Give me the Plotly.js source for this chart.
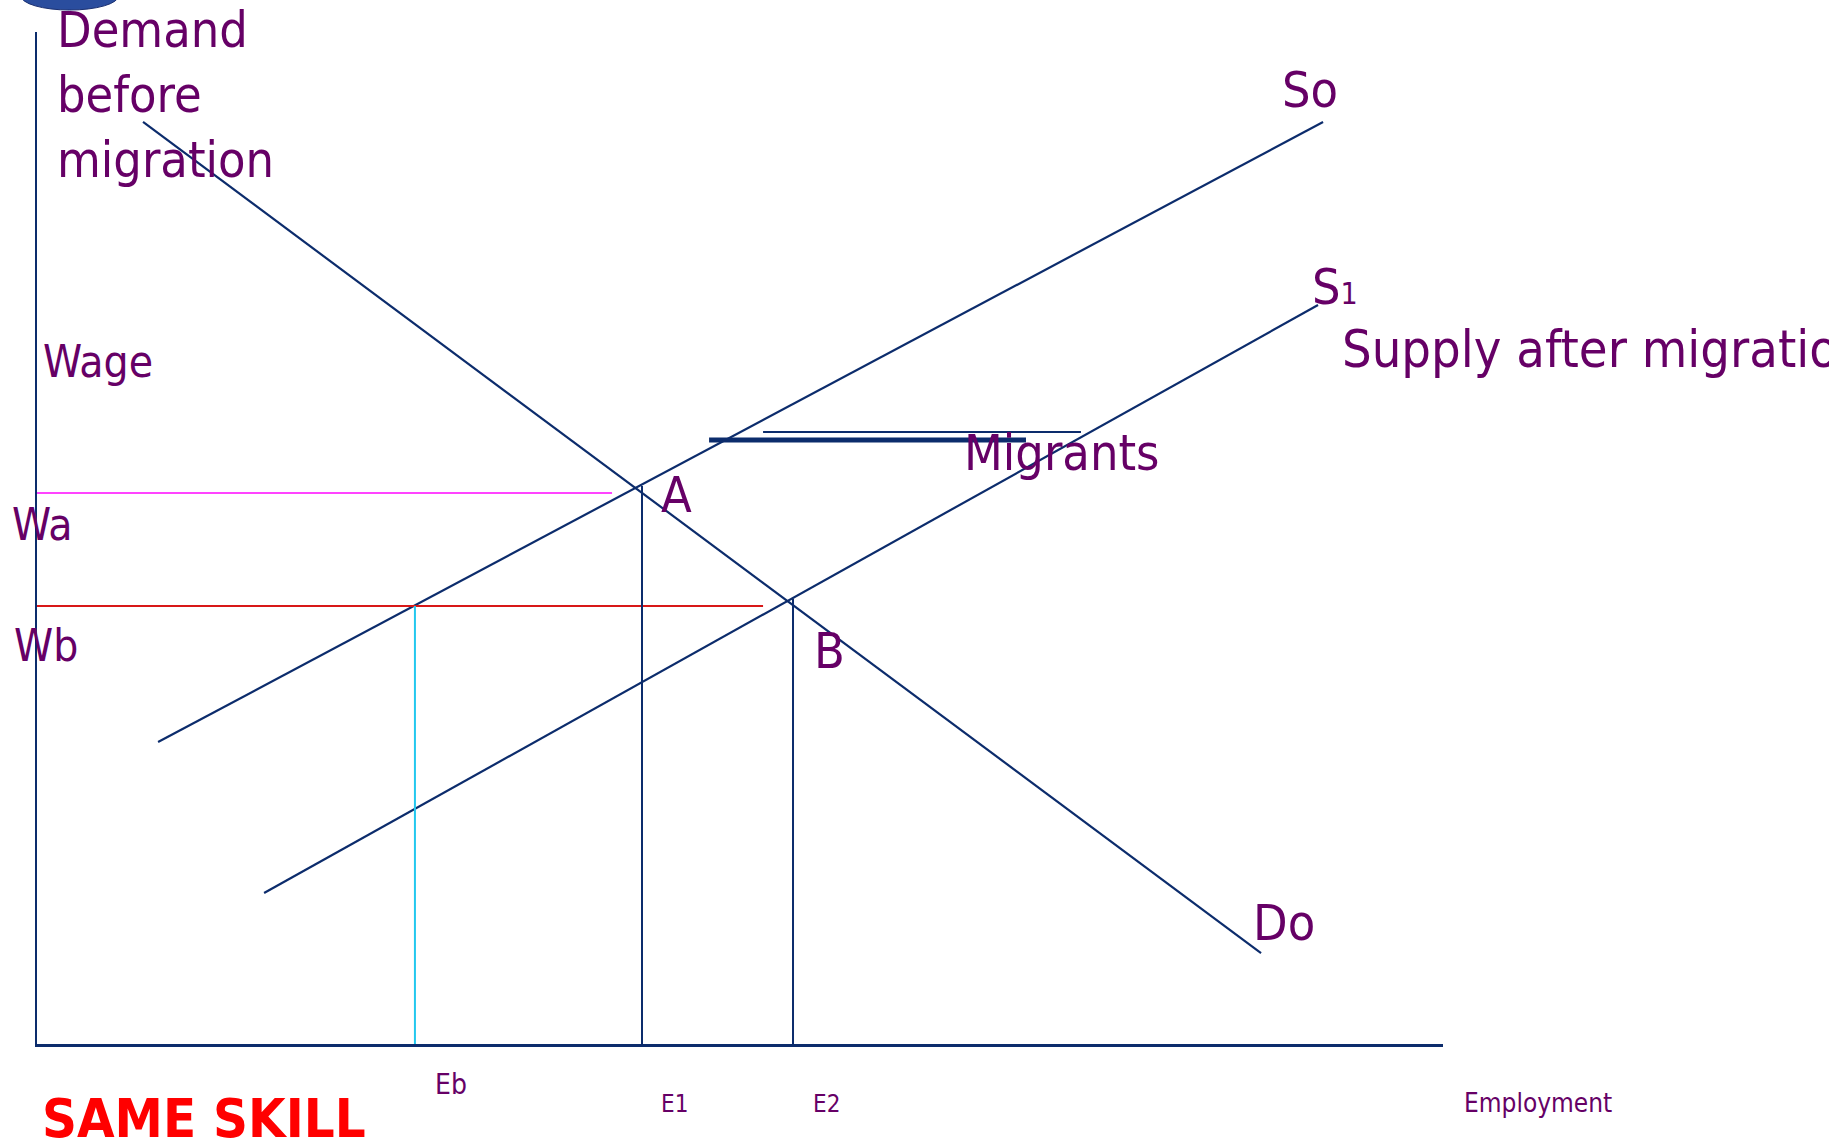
<!DOCTYPE html>
<html>
<head>
<meta charset="utf-8">
<script src="https://cdn.plot.ly/plotly-3.0.1.min.js"></script>
<style>
  html, body { margin: 0; padding: 0; background: #ffffff; overflow: hidden; }
  #chart { width: 1829px; height: 1141px; }
</style>
</head>
<body>
<div id="chart"></div>
<script>
// ---- Data (in employment / wage units, 0-100 scale) ----
const demandX  = [7.54, 87.06];   // Do: demand before migration
const demandY  = [91.11, 8.99];
const supply0X = [8.61, 91.47];   // So: supply before migration
const supply0Y = [29.84, 91.11];
const supply1X = [16.15, 91.11];  // S1: supply after migration
const supply1Y = [14.92, 73.02];

const wageLevels   = [54.45, 43.28];   // Wa, Wb
const wageLineEnds = [40.9, 51.64];    // where the horizontal wage guides stop
const employLevels = [26.88, 43.03, 53.77]; // Eb, E1, E2
const employTops   = [43.28, 55.14, 43.97];
const employBottom = [-0.8, 0, 0];

const migrantsThickX = [47.80, 70.34];
const migrantsThickY = [59.68, 59.68];
const migrantsThinX  = [51.64, 74.25];
const migrantsThinY  = [60.47, 60.47];

const XRANGE = [0, 100];
const YRANGE = [0, 100];

const navy = '#0c2c6c';
const purple = '#660066';
const FONT = '"DejaVu Sans Condensed", "DejaVu Sans", Verdana, sans-serif';

function seg(x, y, color, width, clip) {
  return {
    type: 'scatter', mode: 'lines', x: x, y: y,
    line: { color: color, width: width },
    hoverinfo: 'skip', showlegend: false,
    cliponaxis: clip === undefined ? true : clip
  };
}

const traces = [
  seg(demandX, demandY, navy, 2.2),
  seg(supply0X, supply0Y, navy, 2.2),
  seg(supply1X, supply1Y, navy, 2.2),
  seg([0, wageLineEnds[0]], [wageLevels[0], wageLevels[0]], '#ff44ff', 2),
  seg([0, wageLineEnds[1]], [wageLevels[1], wageLevels[1]], '#d81818', 2),
  seg([employLevels[0], employLevels[0]], [employBottom[0], employTops[0]], '#22c8ee', 2, false),
  seg([employLevels[1], employLevels[1]], [employBottom[1], employTops[1]], navy, 2),
  seg([employLevels[2], employLevels[2]], [employBottom[2], employTops[2]], navy, 2),
  seg(migrantsThinX, migrantsThinY, navy, 2),
  seg(migrantsThickX, migrantsThickY, navy, 5)
];

// labels placed in axis units, converted to paper fractions so that
// the ones outside the plotting area are still drawn
function lab(text, x, y, size, opts) {
  const a = {
    text: text,
    x: (x - XRANGE[0]) / (XRANGE[1] - XRANGE[0]),
    y: (y - YRANGE[0]) / (YRANGE[1] - YRANGE[0]),
    xref: 'paper', yref: 'paper',
    xanchor: 'left', yanchor: 'middle', align: 'left',
    showarrow: false, borderpad: 0,
    font: { family: FONT, size: size, color: purple }
  };
  return Object.assign(a, opts || {});
}

const annotations = [
  lab('Demand<br>before<br>migration', 1.35, 93.76, 50),
  lab('So', 88.48, 94.26, 50),
  lab('S<span style="font-size:30px">1</span>', 90.61, 74.84, 50),
  lab('Supply after migration', 92.75, 68.71, 52),
  lab('Wage', 0.36, 67.41, 44),
  lab('Wa', -1.85, 51.30, 44),
  lab('Wb', -1.70, 39.35, 44),
  lab('A', 44.31, 54.28, 50),
  lab('B', 55.19, 38.87, 50),
  lab('Migrants', 65.86, 58.43, 50),
  lab('Do', 86.42, 11.99, 50),
  lab('Eb', 28.24, -3.98, 28),
  lab('E1', 44.31, -5.90, 24),
  lab('E2', 55.12, -5.90, 24),
  lab('Employment', 101.42, -5.83, 26),
  lab('<b>SAME SKILL</b>', 0.30, -7.41, 54,
      { font: { family: FONT, size: 54, color: '#ff0000' } })
];

const layout = {
  width: 1829, height: 1141,
  margin: { l: 37, r: 386, t: 32, b: 97, pad: 0 },
  paper_bgcolor: '#ffffff', plot_bgcolor: '#ffffff',
  showlegend: false,
  xaxis: {
    range: XRANGE, showgrid: false, zeroline: false,
    showticklabels: false, ticks: '', showline: true,
    linecolor: navy, linewidth: 2.5, fixedrange: true
  },
  yaxis: {
    range: YRANGE, showgrid: false, zeroline: false,
    showticklabels: false, ticks: '', showline: true,
    linecolor: navy, linewidth: 2, fixedrange: true
  },
  shapes: [
    { type: 'circle', xref: 'paper', yref: 'paper',
      x0: -0.0115, x1: 0.0580, y0: 1.0217, y1: 1.0500,
      fillcolor: '#2a4d9e', line: { color: '#1a2f70', width: 1 }, layer: 'above' }
  ],
  annotations: annotations
};

Plotly.newPlot('chart', traces, layout, { staticPlot: true, displayModeBar: false });
</script>
</body>
</html>
